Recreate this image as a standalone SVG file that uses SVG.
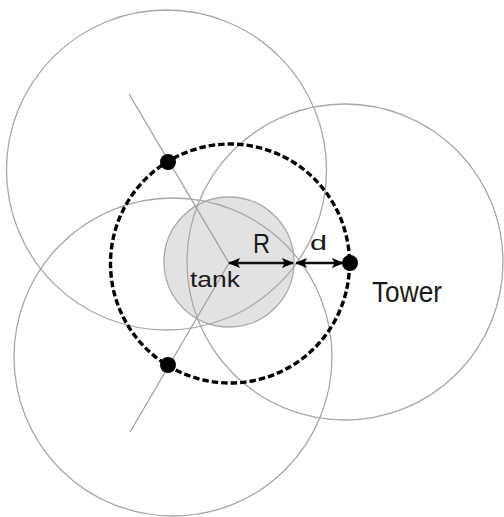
<svg xmlns="http://www.w3.org/2000/svg" width="504" height="517" viewBox="0 0 504 517">
<style>
.cov{fill:none;stroke:#a8a8a8;stroke-width:1.3}
.ray{fill:none;stroke:#a0a0a0;stroke-width:1.3}
.dash{fill:none;stroke:#000;stroke-width:3.4;stroke-dasharray:6.5 3}
.dot{fill:#000}
.arr{stroke:#111;stroke-width:2.6;fill:none;marker-start:url(#ah);marker-end:url(#ah)}
.lbl{font-family:"Liberation Sans",Arial,sans-serif;fill:#1a1a1a}
</style>
<defs>
<marker id="ah" viewBox="0 0 12 10" refX="11" refY="5" markerWidth="12" markerHeight="10" orient="auto-start-reverse" markerUnits="userSpaceOnUse">
<path d="M0,0 L12,5 L0,10 L2.5,5 Z" fill="#000"/>
</marker>
</defs>
<rect width="504" height="517" fill="#fff"/>
<g id="tank">
<circle cx="229" cy="262" r="65" fill="#e2e2e2" stroke="#aaaaaa" stroke-width="1.3"/>
</g>
<g id="coverage">
<circle class="cov" cx="166.5" cy="170" r="160"/>
<circle class="cov" cx="173" cy="357" r="159"/>
<circle class="cov" cx="345" cy="262" r="158"/>
</g>
<g id="connectors">
<line class="ray" x1="129" y1="94" x2="229" y2="263"/>
<line class="ray" x1="130" y1="432" x2="229" y2="263"/>
<line class="arr" x1="229" y1="263" x2="293" y2="263"/>
<line class="arr" x1="296" y1="263" x2="343" y2="263"/>
</g>
<g id="range">
<circle class="dash" cx="230" cy="263.5" r="119.5"/>
</g>
<g id="point-upper"><circle class="dot" cx="168" cy="162" r="8"/></g>
<g id="point-lower"><circle class="dot" cx="168" cy="365" r="8"/></g>
<g id="tower">
<circle class="dot" cx="350" cy="263" r="8"/>
<text class="lbl" x="372" y="302" font-size="29" textLength="70" lengthAdjust="spacingAndGlyphs">Tower</text>
</g>
<g id="labels">
<text class="lbl" x="253" y="253" font-size="27" textLength="17" lengthAdjust="spacingAndGlyphs">R</text>
<text class="lbl" x="310" y="250" font-size="21" textLength="17" lengthAdjust="spacingAndGlyphs">d</text>
<text class="lbl" x="190" y="287" font-size="22" textLength="50" lengthAdjust="spacingAndGlyphs">tank</text>
</g>
</svg>
